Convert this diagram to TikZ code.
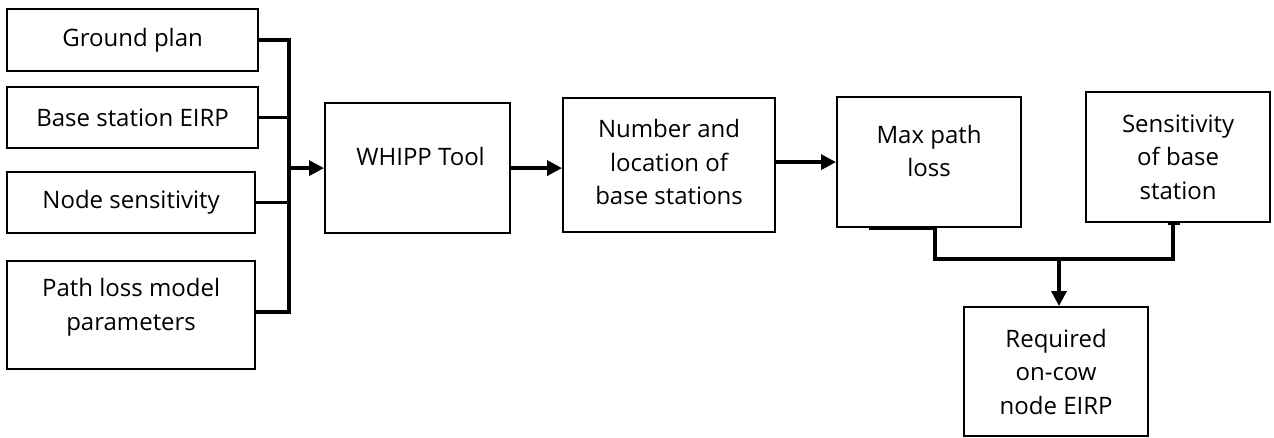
\documentclass[tikz,border=0pt]{standalone}
\usepackage{fontspec}
\setmainfont{Open Sans}
\usetikzlibrary{arrows.meta}
\begin{document}
\begin{tikzpicture}[x=1pt,y=-1pt,
 box/.style={draw, line width=2.2pt, inner sep=0pt, anchor=north west},
 lbl/.style={align=center, font=\fontsize{24}{33.5}\selectfont, inner sep=0pt},
 conn/.style={line width=3.4pt, line join=miter},
 arr/.style={line width=3.4pt, -{Triangle[length=15pt,width=15pt]}}]
\useasboundingbox (0,0) rectangle (1274,437);
% boxes
\node[box, minimum width=251pt, minimum height=62pt] (gp) at (6,8) {};
\node[box, minimum width=251pt, minimum height=61pt] (bse) at (6,86) {};
\node[box, minimum width=248pt, minimum height=61pt] (ns) at (6,171) {};
\node[box, minimum width=248pt, minimum height=108pt] (pl) at (6,260) {};
\node[box, minimum width=185pt, minimum height=130pt] (wh) at (324,102) {};
\node[box, minimum width=212pt, minimum height=134pt] (num) at (562,97) {};
\node[box, minimum width=184pt, minimum height=130pt] (mpl) at (836,96) {};
\node[box, minimum width=184pt, minimum height=130pt] (sbs) at (1085,91) {};
\node[box, minimum width=184pt, minimum height=129pt] (req) at (963,306) {};
% labels
\node[lbl] (tgp) at (gp.center) {Ground plan};
\node[lbl] (tbse) at (bse.center) {Base station EIRP};
\node[lbl] (tns) at (ns.center) {Node sensitivity};
\node[lbl, yshift=8pt] (tpl) at (pl.center) {Path loss model\\parameters};
\node[lbl, yshift=12pt, xshift=3pt] (twh) at (wh.center) {WHIPP Tool};
\node[lbl, yshift=3pt] (tnum) at (num.center) {Number and\\location of\\base stations};
\node[lbl, yshift=11pt] (tmpl) at (mpl.center) {Max path\\loss};
\node[lbl] (tsbs) at (sbs.center) {Sensitivity\\of base\\station};
\node[lbl] (treq) at (req.center) {Required\\on-cow\\node EIRP};
% left bus
\coordinate (bb) at (289,312);
\draw[conn] (gp.east) -| (bb) -- (bb -| pl.east);
\draw[conn] (bse.east) -- (bse.east -| bb);
\draw[conn] (ns.east) -- (ns.east -| bb);
\draw[arr] (bb |- wh.west) -- (wh.west);
% chain
\draw[arr] (wh.east) -- (wh.east -| num.west);
\draw[arr] ([yshift=3pt]num.east) -- ([yshift=3pt]num.east -| mpl.west);
% bottom join
\coordinate (j) at (1059,259);
\draw[conn] ([xshift=-60pt]mpl.south) -- ([xshift=6pt]mpl.south) |- (j) -| ([xshift=-5pt]sbs.south);
\draw[conn] ([xshift=-10pt]sbs.south) -- ([xshift=2pt]sbs.south);
\draw[arr] (j) -- (j |- req.north);
\end{tikzpicture}
\end{document}
